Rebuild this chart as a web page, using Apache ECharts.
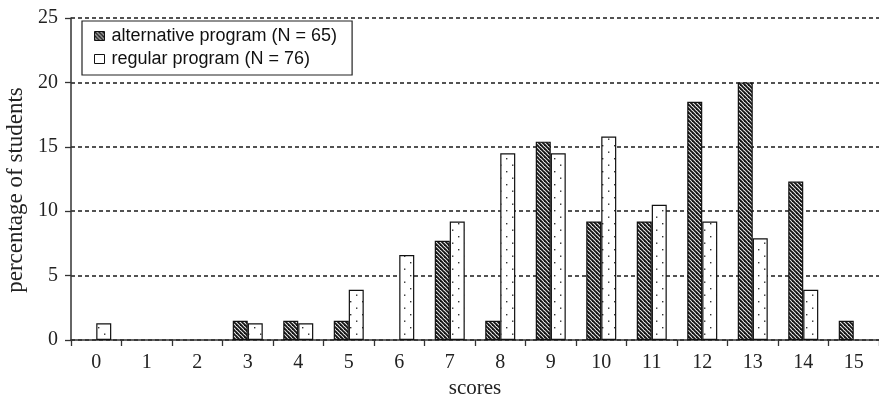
<!DOCTYPE html>
<html>
<head>
<meta charset="utf-8">
<script src="https://cdn.jsdelivr.net/npm/echarts@6/dist/echarts.min.js"></script>
<style>
  html, body { margin: 0; padding: 0; background: #fff; }
  #chart { width: 879px; height: 396px; }
</style>
</head>
<body>
<div id="chart"></div>
<script>
// Score categories and the share of students (%) at each score
const scores = ['0', '1', '2', '3', '4', '5', '6', '7', '8', '9', '10', '11', '12', '13', '14', '15'];
const alternativeProgram = [null, null, null, 1.5, 1.5, 1.5, null, 7.7, 1.5, 15.4, 9.2, 9.2, 18.5, 20.0, 12.3, 1.5];
const regularProgram = [1.3, null, null, 1.3, 1.3, 3.9, 6.6, 9.2, 14.5, 14.5, 15.8, 10.5, 9.2, 7.9, 3.9, null];
const yTicks = { min: 0, max: 25, interval: 5 };
const seriesNames = ['alternative program (N = 65)', 'regular program (N = 76)'];

// Diagonal hatching fill
function stripePattern() {
  const p = 4;
  const c = document.createElement('canvas');
  c.width = p; c.height = p;
  const g = c.getContext('2d');
  g.fillStyle = '#f0f0f0';
  g.fillRect(0, 0, p, p);
  g.strokeStyle = '#151515';
  g.lineWidth = 1.9;
  for (let k = -1; k <= 1; k++) {
    g.beginPath();
    g.moveTo(k * p - 1, -1);
    g.lineTo(k * p + p + 1, p + 1);
    g.stroke();
  }
  return { image: c, repeat: 'repeat' };
}

// Sparse dot fill
function dotPattern() {
  const w = 12, h = 13;
  const c = document.createElement('canvas');
  c.width = w; c.height = h;
  const g = c.getContext('2d');
  g.fillStyle = '#ffffff';
  g.fillRect(0, 0, w, h);
  g.fillStyle = '#333';
  g.fillRect(2, 2, 1.4, 1.4);
  g.fillRect(8, 8.5, 1.4, 1.4);
  return { image: c, repeat: 'repeat' };
}

const stripes = stripePattern();
const dots = dotPattern();
const serif = '"Liberation Serif", "DejaVu Serif", serif';
const sans = '"Liberation Sans", Arial, sans-serif';

const chart = echarts.init(document.getElementById('chart'), null, { renderer: 'canvas' });
chart.setOption({
  backgroundColor: '#fff',
  animation: false,
  grid: { left: 71, right: 0, top: 18, bottom: 56, containLabel: false, outerBoundsMode: 'none' },
  legend: {
    orient: 'vertical',
    left: 82,
    top: 21,
    padding: [5, 15, 6, 12],
    itemGap: 3,
    itemWidth: 10,
    itemHeight: 9,
    borderColor: '#222',
    borderWidth: 1.2,
    backgroundColor: '#fff',
    textStyle: { fontFamily: sans, fontSize: 18, color: '#111', lineHeight: 20, padding: [0, 0, 0, 2] },
    data: [
      { name: seriesNames[0], icon: 'rect', itemStyle: { color: stripes, borderColor: '#111', borderWidth: 1 } },
      { name: seriesNames[1], icon: 'rect', itemStyle: { color: '#fff', borderColor: '#111', borderWidth: 1 } }
    ]
  },
  xAxis: {
    type: 'category',
    data: scores,
    boundaryGap: true,
    name: 'scores',
    nameLocation: 'middle',
    nameGap: 36,
    nameTextStyle: { fontFamily: serif, fontSize: 21, color: '#222' },
    axisLine: { show: true, lineStyle: { color: '#333', width: 1.5 } },
    axisTick: { show: true, length: 6, alignWithLabel: false, lineStyle: { color: '#333', width: 1.3 } },
    axisLabel: { fontFamily: serif, fontSize: 20, color: '#222', margin: 13 },
    splitLine: { show: false }
  },
  yAxis: {
    type: 'value',
    min: yTicks.min,
    max: yTicks.max,
    interval: yTicks.interval,
    name: 'percentage of students',
    nameLocation: 'middle',
    nameGap: 38,
    nameTextStyle: { fontFamily: serif, fontSize: 23, color: '#222', padding: [0, 22, 0, 0] },
    axisLine: { show: true, lineStyle: { color: '#333', width: 1.5 } },
    axisTick: { show: true, length: 6, lineStyle: { color: '#333', width: 1.3 } },
    axisLabel: { fontFamily: serif, fontSize: 20, color: '#222', margin: 13 },
    splitLine: { show: true, lineStyle: { color: '#1a1a1a', width: 1.6, type: [4, 3] } }
  },
  series: [
    {
      name: seriesNames[0],
      type: 'bar',
      data: alternativeProgram,
      barWidth: 15,
      barGap: '0%',
      itemStyle: { color: stripes, borderColor: '#111', borderWidth: 1.2 }
    },
    {
      name: seriesNames[1],
      type: 'bar',
      data: regularProgram,
      barWidth: 15,
      barGap: '0%',
      itemStyle: { color: dots, borderColor: '#111', borderWidth: 1.2 }
    }
  ]
});
</script>
</body>
</html>
